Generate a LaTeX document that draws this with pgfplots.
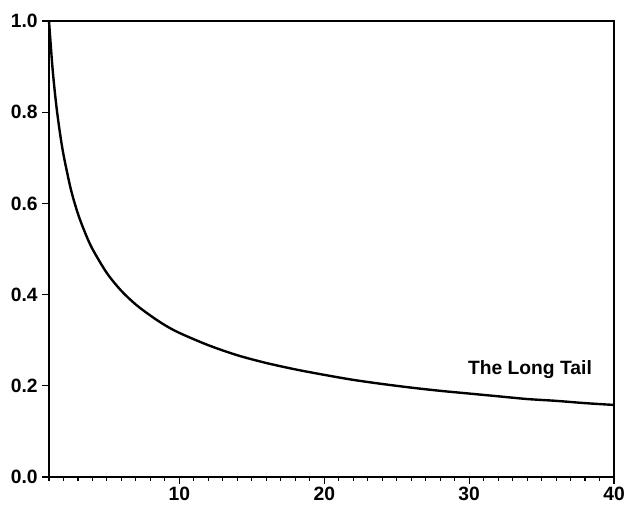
\documentclass[border=0pt]{standalone}
\usepackage{fontspec}
\setmainfont{Liberation Sans}
\usepackage{pgfplots}
\pgfplotsset{compat=1.18}
\begin{document}
\begin{tikzpicture}
\path[use as bounding box] (-36.75bp,-24bp) rectangle (432bp,357.75bp);
\begin{axis}[
  at={(0,0)}, anchor=south west,
  scale only axis,
  width=423.75bp, height=342bp,
  xmin=1, xmax=40, ymin=0, ymax=1,
  xtick={10,20,30,40},
  minor xtick={1,...,40},
  ytick={0,0.2,...,1.0},
  yticklabel style={/pgf/number format/.cd,fixed,fixed zerofill,precision=1},
  tick pos=left,
  tick align=outside,
  major tick length=5bp,
  minor tick length=3bp,
  every tick/.style={black, line width=0.8pt},
  axis line style={line width=1.6pt},
  tick label style={font=\fontsize{14.5}{16}\selectfont\bfseries},
  xticklabel style={yshift=1bp},
  /pgf/number format/assume math mode=true,
  clip=false,
]
\addplot[black, line width=1.8pt, smooth] coordinates {
(1,1.000)(1.25,0.894)(1.5,0.816)(1.75,0.756)(2,0.707)(2.5,0.632)(3,0.577)
(3.5,0.535)(4,0.500)(5,0.447)(6,0.408)(7,0.378)(8,0.354)(9,0.333)(10,0.316)
(12,0.289)(14,0.267)(16,0.250)(18,0.236)(20,0.224)(22,0.213)(24,0.204)
(26,0.196)(28,0.189)(30,0.183)(32,0.177)(34,0.171)(36,0.167)(38,0.162)(40,0.158)
};
\node[font=\fontsize{14.5}{16}\selectfont\bfseries] at (axis cs:34.2,0.235) {The Long Tail};
\end{axis}
\end{tikzpicture}
\end{document}
